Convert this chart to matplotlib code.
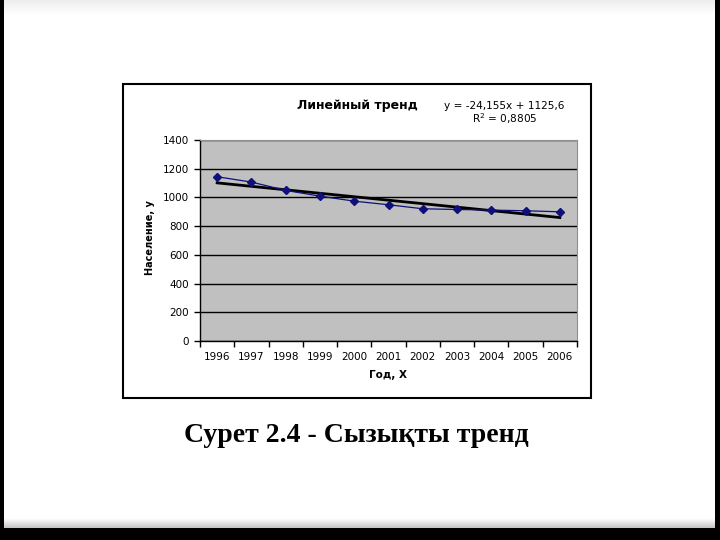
import matplotlib
matplotlib.use("Agg")
import matplotlib.pyplot as plt
from matplotlib.patches import Rectangle
import numpy as np

years = ["1996", "1997", "1998", "1999", "2000", "2001", "2002", "2003", "2004", "2005", "2006"]
population = [1144, 1107, 1049, 1009, 974, 949, 921, 916, 912, 907, 900]
trend_slope = -24.155
trend_intercept = 1125.6
r_squared = 0.8805
y_ticks = [0, 200, 400, 600, 800, 1000, 1200, 1400]

W, H = 720, 540
fig = plt.figure(figsize=(7.2, 5.4), dpi=100, facecolor="black")

def fx(px):
    return px / W

def fy(py):
    return 1 - py / H

# slide background
fig.patches.append(Rectangle((fx(4), fy(528)), fx(711), 528 / H, transform=fig.transFigure,
                             facecolor="white", edgecolor="none", zorder=0))
# subtle top/bottom shading
for i in range(14):
    a = 0.07 * (1 - i / 14)
    fig.patches.append(Rectangle((fx(4), fy(i + 1)), fx(711), 1 / H, transform=fig.transFigure,
                                 facecolor="black", alpha=a, edgecolor="none", zorder=0.5))
for i in range(10):
    a = 0.25 * (i / 10)
    fig.patches.append(Rectangle((fx(4), fy(518 + i + 1)), fx(711), 1 / H, transform=fig.transFigure,
                                 facecolor="black", alpha=a, edgecolor="none", zorder=0.5))

# chart box
fig.patches.append(Rectangle((fx(123), fy(398)), fx(591 - 123), (398 - 84) / H, transform=fig.transFigure,
                             facecolor="white", edgecolor="black", linewidth=1.5, zorder=1))

ax = fig.add_axes([fx(200), fy(341), fx(577 - 200), (341 - 140) / H], zorder=2)
ax.set_facecolor("#c0c0c0")

x = np.arange(len(years))
ax.set_xlim(-0.5, len(years) - 0.5)
ax.set_ylim(0, 1400)
ax.set_yticks(y_ticks)
ax.set_yticklabels([str(v) for v in y_ticks])
ax.yaxis.grid(True, color="black", linewidth=1)
ax.set_axisbelow(True)

ax.set_xticks(x)
ax.set_xticklabels(years)
ax.set_xticks(np.arange(-0.5, len(years)), minor=True)
ax.tick_params(axis="x", which="major", length=0, pad=8, labelsize=7.5)
ax.tick_params(axis="x", which="minor", length=4, width=1, direction="out")
ax.tick_params(axis="y", length=4, width=1, direction="out", pad=4, labelsize=7.5)

for s in ["top", "right"]:
    ax.spines[s].set_color("#909090")
    ax.spines[s].set_linewidth(0.8)
for s in ["left", "bottom"]:
    ax.spines[s].set_color("black")
    ax.spines[s].set_linewidth(1)

# trend line
t = np.arange(1, len(years) + 1)
trend = trend_slope * t + trend_intercept
ax.plot(x, trend, color="black", linewidth=2, zorder=3)
# data
ax.plot(x, population, color="#10107a", linewidth=0.9, marker="D", markersize=4,
        markerfacecolor="#10107a", markeredgecolor="#10107a", zorder=4)

fig.text(fx(357), fy(106), "Линейный тренд", ha="center", va="center",
         fontsize=9, fontweight="bold", zorder=5)
fig.text(fx(504), fy(106), "y = -24,155x + 1125,6", ha="center", va="center",
         fontsize=7.6, zorder=5)
fig.text(fx(505), fy(119), "R$^2$ = 0,8805", ha="center", va="center",
         fontsize=7.6, zorder=5)

fig.text(fx(150), fy(238), "Население, у", ha="center", va="center", rotation=90,
         fontsize=7, fontweight="bold", zorder=5)
fig.text(fx(388), fy(375), "Год, Х", ha="center", va="center",
         fontsize=7.5, fontweight="bold", zorder=5)

fig.text(fx(356), fy(436), "Сурет 2.4 - Сызықты тренд", ha="center", va="center",
         fontsize=20, fontweight="bold", family="Liberation Serif", zorder=5)

fig.savefig("out.png", dpi=100, facecolor=fig.get_facecolor())
